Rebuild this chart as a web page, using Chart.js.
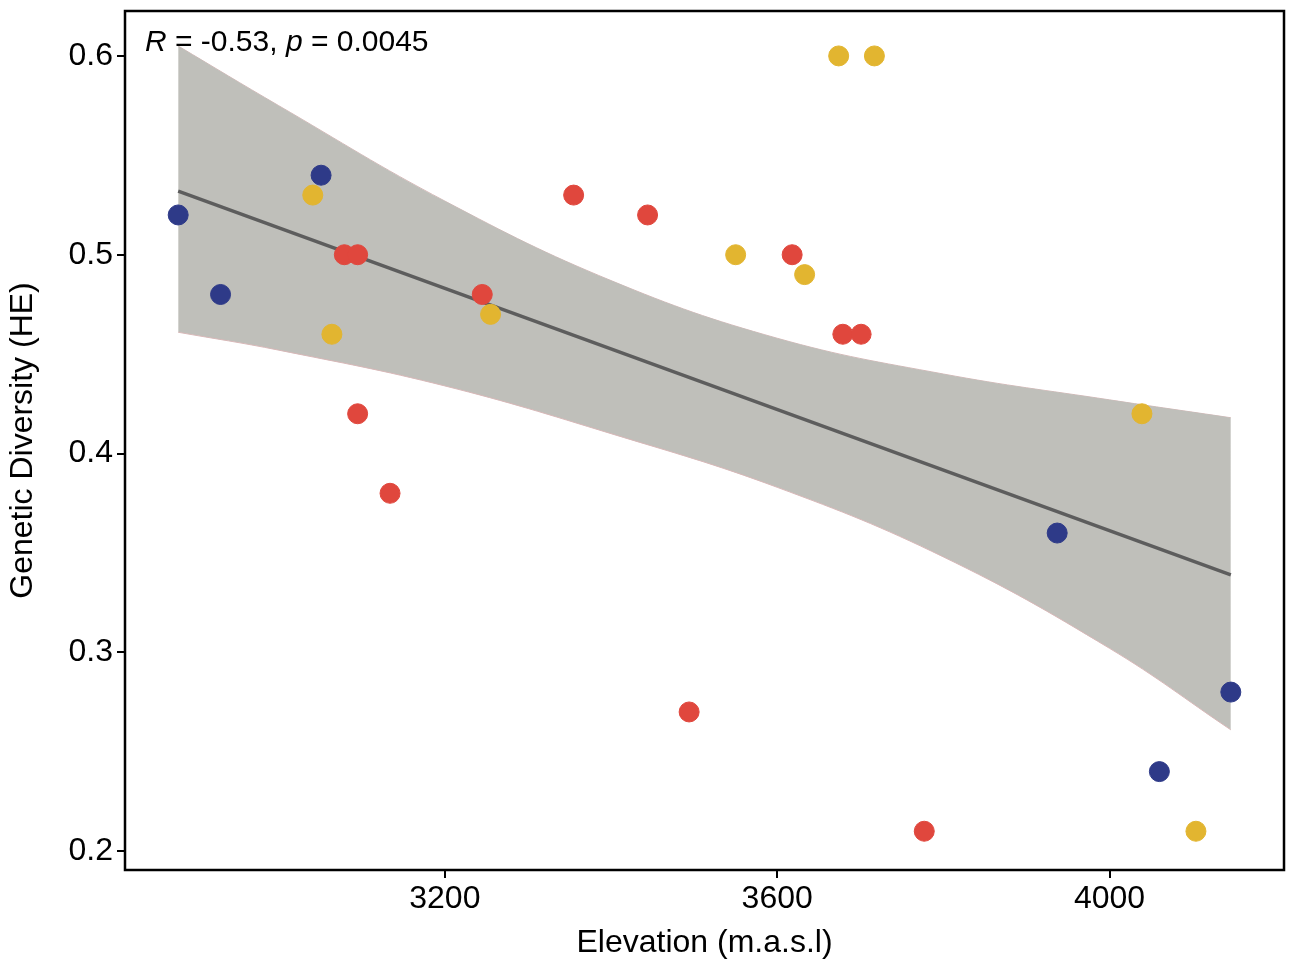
<!DOCTYPE html>
<html><head><meta charset="utf-8">
<script src="https://cdn.jsdelivr.net/npm/chart.js@4"></script>
<style>html,body{margin:0;padding:0;background:#fff;overflow:hidden}#w{width:1295px;height:966px}</style>
</head><body><div id="w"><canvas id="c"></canvas></div>
<script>
const blueX=[2879,2930,3051,3937,4146,4060];
const blueY=[0.52,0.48,0.54,0.36,0.28,0.24];
const yellowX=[3041,3064,3255,3550,3633,3674,3717,4039,4104];
const yellowY=[0.53,0.46,0.47,0.50,0.49,0.60,0.60,0.42,0.21];
const redX=[3079,3095,3095,3134,3245,3355,3444,3494,3618,3679,3701,3777];
const redY=[0.50,0.50,0.42,0.38,0.48,0.53,0.52,0.27,0.50,0.46,0.46,0.21];
const bandX=[2879,3000,3200,3400,3600,3800,4000,4146];
const bandUpper=[0.605,0.575,0.527,0.487,0.458,0.440,0.427,0.418];
const bandLower=[0.461,0.452,0.434,0.410,0.383,0.348,0.302,0.261];
const fitX=[2879,4146];
const fitY=[0.532,0.339];
const xTicks=[3200,3600,4000];
const yTicks=[0.2,0.3,0.4,0.5,0.6];

const pts=(xs,ys)=>xs.map((x,i)=>({x,y:ys[i]}));
const frame={id:'frame',afterDatasetsDraw(ch){const a=ch.chartArea,c=ch.ctx;c.save();c.strokeStyle='#000';c.lineWidth=2.5;c.strokeRect(a.left,a.top,a.right-a.left,a.bottom-a.top);
c.fillStyle='#000';c.textBaseline='middle';let x=a.left+20,y=a.top+32;
const parts=[['italic 30px Arial','R'],['30px Arial',' = -0.53, '],['italic 30px Arial','p'],['30px Arial',' = 0.0045']];
for(const [f,t] of parts){c.font=f;c.fillText(t,x,y);x+=c.measureText(t).width;}c.restore();}};
const sc=(c)=>({type:'scatter',data:[],backgroundColor:c,borderColor:c,pointRadius:10,pointHoverRadius:10,order:0});
const tf={size:32,family:'Arial'};
new Chart(document.getElementById('c'),{
type:'scatter',
data:{datasets:[
{type:'line',data:pts(bandX,bandUpper),borderColor:'#d8b8b8',borderWidth:1,pointRadius:0,fill:false,tension:0.4,order:3},
{type:'line',data:pts(bandX,bandLower),borderColor:'#d8b8b8',borderWidth:1,pointRadius:0,fill:'-1',backgroundColor:'#bfbfba',tension:0.4,order:2},
{type:'line',data:pts(fitX,fitY),borderColor:'#5d5d5d',borderWidth:3.5,pointRadius:0,fill:false,order:1},
{...sc('#e0473d'),data:pts(redX,redY)},
{...sc('#e2b530'),data:pts(yellowX,yellowY)},
{...sc('#2e3a88'),data:pts(blueX,blueY)}
]},
options:{responsive:true,maintainAspectRatio:false,animation:false,
layout:{padding:{top:10,right:2,left:0,bottom:0}},
plugins:{legend:{display:false},tooltip:{enabled:false}},
scales:{
x:{type:'linear',min:2815,max:4210,grid:{display:true,drawOnChartArea:false,color:'#000',lineWidth:2,tickLength:8},border:{display:false},
afterBuildTicks(s){s.ticks=xTicks.map(v=>({value:v}));},
afterFit(s){s.height=96;s.paddingLeft=0;s.paddingRight=0;},
ticks:{color:'#000',font:tf,padding:2,callback:v=>String(v)},
title:{display:true,text:'Elevation (m.a.s.l)',color:'#000',font:tf,padding:{top:4}}},
y:{type:'linear',min:0.1905,max:0.6226,grid:{display:true,drawOnChartArea:false,color:'#000',lineWidth:2,tickLength:8},border:{display:false},
afterBuildTicks(s){s.ticks=yTicks.map(v=>({value:v}));},
afterFit(s){s.width=125;s.paddingTop=0;s.paddingBottom=0;},
ticks:{color:'#000',font:tf,padding:4,callback:v=>v.toFixed(1)},
title:{display:true,text:'Genetic Diversity (HE)',color:'#000',font:tf,padding:{bottom:4}}}
}},
plugins:[frame]});
</script></body></html>
